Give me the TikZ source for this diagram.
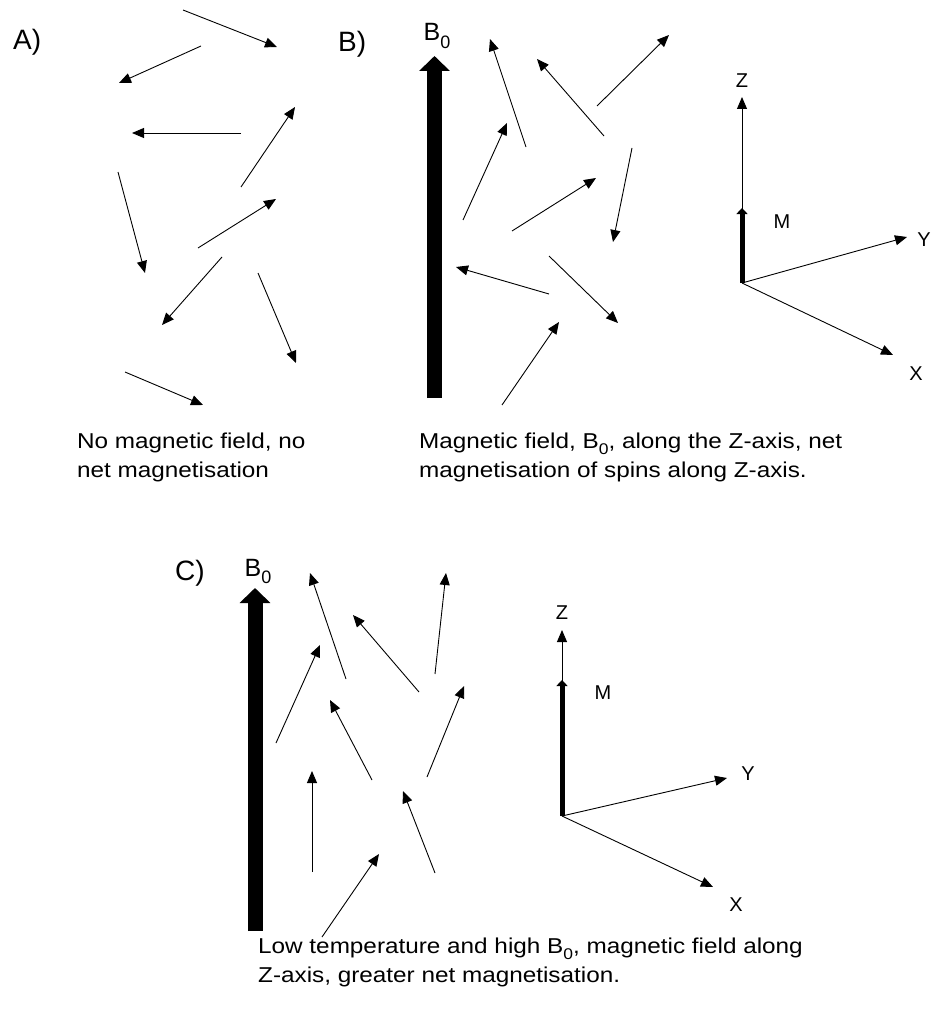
\documentclass[tikz,border=0pt]{standalone}
\usepackage{fontspec}
\setmainfont{Liberation Sans}
\newfontfamily\captionfont[FakeStretch=1.13]{Liberation Sans}
\usetikzlibrary{arrows.meta}
% lowered subscript digit set in the current font
\newcommand\lowsub[1]{\raisebox{-0.3em}{\scalebox{0.72}{#1}}}

\begin{document}
\begin{tikzpicture}[x=1pt,y=-1pt,
  spin/.style={line width=0.9pt,-{Triangle[length=12pt,width=10pt]}},
  axisline/.style={line width=0.9pt,-{Triangle[length=12pt,width=10pt]}},
  field/.style={line width=15pt,-{Triangle[length=15pt,width=30pt]}},
  magn/.style={line width=5pt,-{Triangle[length=6pt,width=11pt]}},
  panel/.style={anchor=base west,inner sep=0pt,font=\fontsize{28}{32}\selectfont},
  fieldlabel/.style={anchor=base,inner sep=0pt,font=\fontsize{25}{28}\selectfont},
  axislabel/.style={inner sep=0pt,font=\fontsize{20}{22}\selectfont},
  caption/.style={anchor=base west,align=left,inner sep=0pt,
                  font=\captionfont\fontsize{21.5}{29}\selectfont},
]
\useasboundingbox (0,0) rectangle (932,1014);

% ---------------- A) random spins, no field ----------------
\node[panel] (labA) at (13,50) {A)};
\draw[spin] (183,10)  -- (277,47);
\draw[spin] (201,46)  -- (119,83);
\draw[spin] (241,133) -- (132,133);
\draw[spin] (241,187) -- (295,107);
\draw[spin] (118,172) -- (145,273);
\draw[spin] (198,248) -- (276,199);
\draw[spin] (222,257) -- (162,325);
\draw[spin] (258,273) -- (296,363);
\draw[spin] (125,372) -- (203,405);
% caption: anchor sits on the baseline of its last line
\node[caption] (capA) at (77,477) {No magnetic field, no\\net magnetisation};

% ---------------- B) spins in a field ----------------
\node[panel] (labB) at (338,52) {B)};
\coordinate (fB0) at (434.5,398);
\coordinate (fB1) at (434.5,56);
\draw[field] (fB0) -- (fB1);
\node[fieldlabel] (B0b) at (437,41) {B\lowsub{0}};

\draw[spin] (526,147) -- (490,39);
\draw[spin] (604,136) -- (537,59);
\draw[spin] (597,106) -- (669,35);
\draw[spin] (463,220) -- (507,123);
\draw[spin] (512,231) -- (596,178);
\draw[spin] (632,148) -- (613,242);
\draw[spin] (549,294) -- (456,267);
\draw[spin] (549,256) -- (618,323);
\draw[spin] (502,405) -- (559,322);

% axes with net magnetisation
\coordinate (oB) at (742,283);
\coordinate (zB) at (742,97);
\coordinate (mB) at (742,208);
\coordinate (yB) at (907,237);
\coordinate (xB) at (893,355);
\draw[axisline] (oB) -- (zB);
\draw[axisline] (oB) -- (yB);
\draw[axisline] (oB) -- (xB);
\draw[magn] (oB) -- (mB);
\node[axislabel] (zlB) at (742,81)  {Z};
\node[axislabel] (mlB) at (782,222) {M};
\node[axislabel] (ylB) at (924,240) {Y};
\node[axislabel] (xlB) at (916,374) {X};
\node[caption] (capB) at (419,477) {Magnetic field, B\lowsub{0}, along the Z-axis, net\\magnetisation of spins along Z-axis.};

% ---------------- C) low temperature, high field ----------------
\node[panel] (labC) at (175,580) {C)};
\coordinate (fC0) at (255,931);
\coordinate (fC1) at (255,588);
\draw[field] (fC0) -- (fC1);
\node[fieldlabel] (B0c) at (258,576) {B\lowsub{0}};

\draw[spin] (346,679) -- (310,573);
\draw[spin] (435,674) -- (446,573);
\draw[spin] (419,692) -- (353,615);
\draw[spin] (276,743) -- (320,645);
\draw[spin] (372,780) -- (330,700);
\draw[spin] (427,777) -- (464,686);
\draw[spin] (312,872) -- (312,771);
\draw[spin] (435,873) -- (403,791);
\draw[spin] (322,937) -- (379,854);

\coordinate (oC) at (562,816);
\coordinate (zC) at (562,630);
\coordinate (mC) at (562,680);
\coordinate (yC) at (727,778);
\coordinate (xC) at (713,887);
\draw[axisline] (oC) -- (zC);
\draw[axisline] (oC) -- (yC);
\draw[axisline] (oC) -- (xC);
\draw[magn] (oC) -- (mC);
\node[axislabel] (zlC) at (562,613) {Z};
\node[axislabel] (mlC) at (603,693) {M};
\node[axislabel] (ylC) at (748,774) {Y};
\node[axislabel] (xlC) at (736,905) {X};
\node[caption] (capC) at (258,982) {Low temperature and high B\lowsub{0}, magnetic field along\\Z-axis, greater net magnetisation.};
\end{tikzpicture}
\end{document}
